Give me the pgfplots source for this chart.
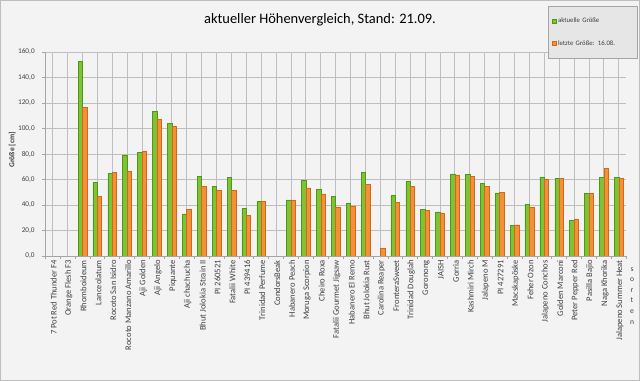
\documentclass[border=0pt]{standalone}
\usepackage{fontspec}
\setmainfont{Carlito}
\usepackage{pgfplots}
\usepackage{pgfplotstable}
\pgfplotsset{compat=1.18}
\definecolor{bg}{RGB}{243,243,243}
\definecolor{frame}{RGB}{190,190,190}
\definecolor{grid}{RGB}{165,165,165}
\definecolor{gD}{RGB}{80,150,25}
\definecolor{gF}{RGB}{125,195,50}
\definecolor{oD}{RGB}{210,105,25}
\definecolor{oF}{RGB}{242,145,55}
\definecolor{legbg}{RGB}{230,230,230}

\pgfplotstableread{
x y
2 152.5
3 57.5
4 64.8
5 79.3
6 81
7 113.3
8 104
9 33
10 62.4
11 54.6
12 61.6
13 37.6
14 42.6
16 44
17 59.5
18 52.5
19 46.7
20 41.5
21 65.8
23 47.3
24 58.7
25 36.6
26 34.7
27 64.5
28 64.2
29 56.7
30 49.6
31 24
32 40.5
33 62.1
34 60.8
35 27.7
36 49
37 61.6
38 61.4
}\aktuell

\pgfplotstableread{
x y
2 116.5
3 47
4 65.6
5 66.4
6 82
7 107
8 101.5
9 36.5
10 54.6
11 51.7
12 51.7
13 31.6
14 42.6
16 43.6
17 53.5
18 48.8
19 38.6
20 39.4
21 55.9
22 5.7
23 41.8
24 54.6
25 35.8
26 33.4
27 63.7
28 62.7
29 54.6
30 50.1
31 24.5
32 38
33 60.3
34 60.6
35 28.7
36 49
37 68.7
38 60.6
}\letzte

\begin{document}
\begin{tikzpicture}
\fill[bg] (0,0) rectangle (640bp,381bp);
\draw[frame, line width=1bp] (0.5bp,0.5bp) rectangle (639.5bp,380.5bp);
\begin{axis}[
  at={(45.2bp,125bp)}, anchor=south west,
  width=581bp, height=204bp, scale only axis,
  xmin=-0.5, xmax=38.5, ymin=0, ymax=160,
  axis lines*=left,
  axis line style={grid, line width=0.8bp},
  ytick={0,20,...,160},
  ymajorgrids, grid style={grid, line width=0.9bp},
  xtick={0,...,38},
  xticklabels={7 Pot Red Thunder F4, Orange Flesh F3, Rhomboideum, Lanceolatum, Rocoto San Isidro, Rocoto Manzano Amarillo, Aji Golden, Aji Angelo, Piquante, Aji chachucha, Bhut Jolokia Strain II, PI 260521, Fatalii White, PI 439416, Trinidad Perfume, CondorsBeak, Habanero Peach, Moruga Scorpion, Cheiro Roxa, Fatalii Gourmet Jigsaw, Habanero El Remo, Bhut Jolokia Rust, Carolina Reaper, FronteraSweet, Trinidad Douglah, Goronong, JAISH, Gorria, Kashmiri Mirch, Jalapeno M, PI 427291, Macskapöske, Feher Ozon, Jalapeno Conchos, Golden Marconi, Peter Pepper Red, Pasilla Bajio, Naga Khorika, Jalapeno Summer Heat},
  minor xtick={-0.5,0.5,...,38.5},
  major x tick style={draw=none},
  minor x tick style={grid, line width=0.6bp},
  minor tick length=3bp,
  y tick style={grid, line width=0.6bp},
  major tick length=3bp,
  tick align=outside,
  xticklabel style={rotate=90, anchor=east, font=\fontsize{8.6}{9}\selectfont, text=black!75, inner sep=1bp, yshift=-1bp},
  yticklabel style={font=\fontsize{7.3}{8}\selectfont, text=black!75, xshift=-4bp},
  /pgf/number format/.cd, fixed, fixed zerofill, precision=1, use comma, assume math mode=true,
  /pgfplots/.cd,
  ylabel={Größe [cm]},
  ylabel style={font=\bfseries\fontsize{7.6}{8}\selectfont, text=black!75, at={(axis description cs:-0.057,0.52)}, anchor=center},
  title={aktueller Höhenvergleich, Stand: 21.09.},
  title style={font=\fontsize{14.5}{16}\selectfont, at={(axis description cs:0.473,1.13)}, anchor=center},
  xlabel={s\\o\\r\\t\\e\\n},
  xlabel style={font=\fontsize{7.6}{10.6}\selectfont, text=black!75, align=center, at={(axis description cs:1.01,-0.195)}, anchor=center},
  ybar=0pt, bar width=4.4bp,
  legend style={at={(axis description cs:1.019,1.225)}, anchor=north east,
    fill=legbg, draw=grid, font=\fontsize{6.8}{8}\selectfont, text=black!75,
    row sep=12bp, inner xsep=3bp, inner ysep=10bp,
    /tikz/every even column/.append style={text width=74bp}},
  legend cell align=left,
  legend image code/.code={\fill[#1] (0bp,-2bp) rectangle (4bp,2bp);},
]
\addplot[fill=gF, draw=gD, line width=0.5bp] table[x=x,y=y] {\aktuell};
\addplot[fill=oF, draw=oD, line width=0.5bp] table[x=x,y=y] {\letzte};
\legend{aktuelle Größe, letzte Größe: 16.08.}
\end{axis}
\end{tikzpicture}
\end{document}
